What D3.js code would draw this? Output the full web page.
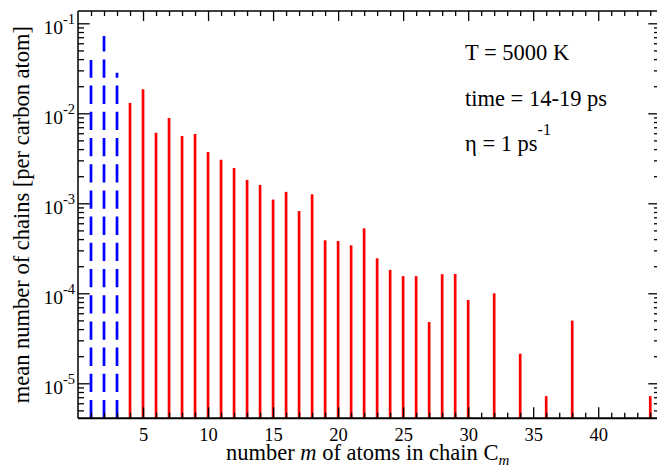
<!DOCTYPE html>
<html>
<head>
<meta charset="utf-8">
<script src="https://cdn.jsdelivr.net/npm/d3@7"></script>
<style>
  body { margin: 0; background: #fff; }
  svg { display: block; }
  svg text { font-family: 'Liberation Serif', 'Tinos', 'DejaVu Serif', serif; fill: #000; }
  .domain { display: none; }
  .tick line { stroke: #000; stroke-width: 1.3; }
</style>
</head>
<body>
<svg id="chart" width="657" height="467"></svg>
<script>
// Short chains C1..C3 (dashed blue) and longer chains (solid red)
const shortChains = [1, 2, 3];
const shortCounts = [0.039, 0.0723, 0.0282];

const longChains = [4, 5, 6, 7, 8, 9, 10, 11, 12, 13, 14, 15, 16, 17, 18, 19, 20,
                    21, 22, 23, 24, 25, 26, 27, 28, 29, 30, 32, 34, 36, 38, 44];
const longCounts = [0.0130, 0.0185, 0.00608, 0.00887, 0.0056, 0.0059, 0.00372, 0.00305,
                    0.00247, 0.00182, 0.0016, 0.0011, 0.00134, 0.00082, 0.00126, 0.000388,
                    0.000381, 0.000341, 0.000527, 0.000245, 0.000182, 0.000155, 0.000155,
                    0.000048, 0.000163, 0.000164, 0.0000843, 0.0001, 0.0000213, 0.0000072,
                    0.0000497, 0.0000072];

const xMajorTicks = [5, 10, 15, 20, 25, 30, 35, 40];
const yDecades = [-5, -4, -3, -2, -1];
const infoLines = ["T = 5000 K", "time = 14-19 ps", "η = 1 ps"];

const SERIF = "'Liberation Serif', 'Tinos', 'DejaVu Serif', serif";
const plot = { left: 78, top: 11, right: 660, bottom: 418.3 };

const svg = d3.select("#chart").attr("font-family", SERIF);

const x = d3.scaleLinear().domain([0, 44.75]).range([plot.left, plot.right]);
const y = d3.scaleLog().domain([4.083e-6, 0.137]).range([plot.bottom, plot.top]);

// Tick positions
const xMinor = d3.range(1, 45).filter(v => v % 5 !== 0);
const yMajor = yDecades.map(e => Math.pow(10, e));
const yMinor = [];
for (let e = -6; e <= -1; e++) {
  for (let k = 2; k <= 9; k++) {
    const v = k * Math.pow(10, e);
    if (v >= y.domain()[0] && v <= y.domain()[1]) yMinor.push(v);
  }
}

// Bars
const bars = svg.append("g");
bars.selectAll("line.short")
  .data(shortChains.map((m, i) => ({ m, v: shortCounts[i] })))
  .join("line")
  .attr("class", "short")
  .attr("x1", d => x(d.m)).attr("x2", d => x(d.m))
  .attr("y1", plot.bottom).attr("y2", d => y(d.v))
  .attr("stroke", "#0000ff").attr("stroke-width", 2.7)
  .attr("stroke-dasharray", "18.3,7.9");

bars.selectAll("line.long")
  .data(longChains.map((m, i) => ({ m, v: longCounts[i] })))
  .join("line")
  .attr("class", "long")
  .attr("x1", d => x(d.m)).attr("x2", d => x(d.m))
  .attr("y1", plot.bottom).attr("y2", d => y(d.v))
  .attr("stroke", "#ff0000").attr("stroke-width", 2.7);

// Axes: ticks point inward on all four sides
const gx = svg.append("g").attr("transform", `translate(0,${plot.bottom})`);
gx.call(d3.axisBottom(x).tickValues(xMajorTicks).tickSizeInner(-11).tickSizeOuter(0).tickPadding(9.5))
  .attr("font-family", SERIF).attr("font-size", 18.5);
gx.append("g").call(d3.axisBottom(x).tickValues(xMinor).tickSizeInner(-5.5).tickSizeOuter(0).tickFormat(""));

const gxt = svg.append("g").attr("transform", `translate(0,${plot.top})`);
gxt.call(d3.axisTop(x).tickValues(xMajorTicks).tickSizeInner(-10).tickSizeOuter(0).tickFormat(""));
gxt.append("g").call(d3.axisTop(x).tickValues(xMinor).tickSizeInner(-5).tickSizeOuter(0).tickFormat(""));

const gy = svg.append("g").attr("transform", `translate(${plot.left},0)`);
gy.call(d3.axisLeft(y).tickValues(yMajor).tickSizeInner(-11.7).tickSizeOuter(0).tickFormat(""));
gy.append("g").call(d3.axisLeft(y).tickValues(yMinor).tickSizeInner(-6).tickSizeOuter(0).tickFormat(""));

const gyr = svg.append("g").attr("transform", `translate(${plot.right},0)`);
gyr.call(d3.axisRight(y).tickValues(yMajor).tickSizeInner(-11.7).tickSizeOuter(0).tickFormat(""));
gyr.append("g").call(d3.axisRight(y).tickValues(yMinor).tickSizeInner(-6).tickSizeOuter(0).tickFormat(""));

// Decade labels 10^n
const yLab = svg.append("g").attr("font-family", SERIF);
yDecades.forEach(e => {
  const t = yLab.append("text")
    .attr("y", y(Math.pow(10, e)) + 11)
    .attr("font-size", 19.5);
  t.append("tspan").text("10");
  t.append("tspan").attr("dy", -10.5).attr("font-size", 14.5).text("-" + (-e));
});
yLab.selectAll("text").each(function () {
  // right-align the whole label just left of the axis
  const w = this.getComputedTextLength();
  d3.select(this).attr("x", 75 - w);
});

// Frame
const frame = svg.append("g").attr("fill", "none").attr("stroke", "#000");
frame.append("line").attr("x1", plot.left).attr("x2", plot.right).attr("y1", plot.top).attr("y2", plot.top).attr("stroke-width", 1.5);
frame.append("line").attr("x1", plot.left).attr("x2", plot.left).attr("y1", plot.top).attr("y2", plot.bottom).attr("stroke-width", 1.5);
frame.append("line").attr("x1", plot.left).attr("x2", plot.right).attr("y1", plot.bottom).attr("y2", plot.bottom).attr("stroke-width", 2);
frame.append("line").attr("x1", plot.right).attr("x2", plot.right).attr("y1", plot.top).attr("y2", plot.bottom).attr("stroke-width", 1.5);

// Axis titles
const xt = svg.append("text").attr("x", 226).attr("y", 460).attr("font-size", 22.5);
xt.append("tspan").text("number ");
xt.append("tspan").attr("font-style", "italic").text("m");
xt.append("tspan").text(" of atoms in chain C");
xt.append("tspan").attr("font-style", "italic").attr("font-size", 15).attr("dy", 5).text("m");

svg.append("text")
  .attr("transform", `translate(29,${(plot.top + plot.bottom) / 2}) rotate(-90)`)
  .attr("text-anchor", "middle").attr("font-size", 22.5)
  .text("mean number of chains [per carbon atom]");

// Run conditions
const info = svg.append("g").attr("font-size", 22.5);
info.append("text").attr("x", 465).attr("y", 60).text(infoLines[0]);
info.append("text").attr("x", 465).attr("y", 106).text(infoLines[1]);
const eta = info.append("text").attr("x", 465).attr("y", 151);
eta.append("tspan").text(infoLines[2]);
eta.append("tspan").attr("dy", -16).attr("font-size", 16).text("-1");
</script>
</body>
</html>
